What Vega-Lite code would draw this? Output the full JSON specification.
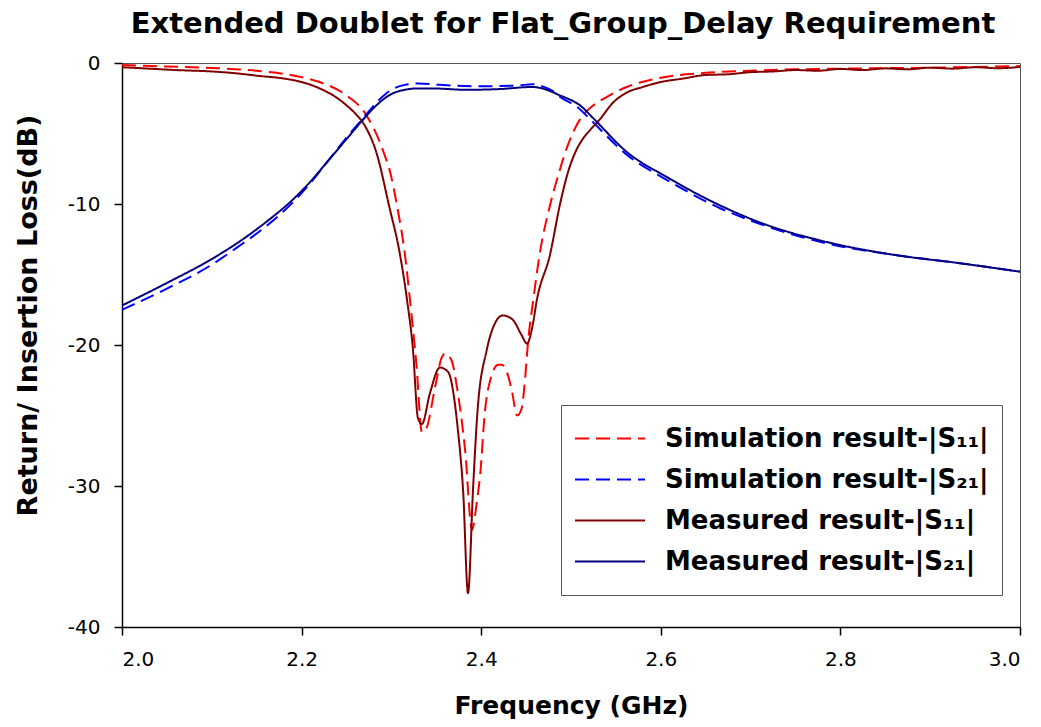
{
  "$schema": "https://vega.github.io/schema/vega-lite/v6.json",
  "width": 898,
  "height": 564,
  "autosize": {"type": "none"},
  "padding": {"left": 122, "top": 63, "right": 21, "bottom": 100},
  "background": "white",
  "title": {
    "text": "Extended Doublet for Flat_Group_Delay Requirement",
    "font": "DejaVu Sans",
    "fontSize": 29,
    "fontWeight": "bold",
    "color": "black",
    "anchor": "middle",
    "frame": "group",
    "offset": 14,
    "dx": -8
  },
  "config": {
    "view": {"stroke": "#555555", "strokeWidth": 1},
    "axis": {
      "grid": false,
      "domainColor": "black",
      "domainWidth": 1.5,
      "tickColor": "black",
      "tickWidth": 1.5,
      "tickSize": 8,
      "labelFont": "DejaVu Sans",
      "labelFontSize": 20,
      "labelColor": "black",
      "titleFont": "DejaVu Sans",
      "titleFontWeight": "bold",
      "titleColor": "black"
    }
  },
  "data": {
    "values": [
      {"s": "Simulation result-|S₁₁|", "f": 2.000, "db": -0.15},
      {"s": "Simulation result-|S₁₁|", "f": 2.050, "db": -0.25},
      {"s": "Simulation result-|S₁₁|", "f": 2.100, "db": -0.35},
      {"s": "Simulation result-|S₁₁|", "f": 2.150, "db": -0.55},
      {"s": "Simulation result-|S₁₁|", "f": 2.200, "db": -1.0},
      {"s": "Simulation result-|S₁₁|", "f": 2.220, "db": -1.35},
      {"s": "Simulation result-|S₁₁|", "f": 2.250, "db": -2.3},
      {"s": "Simulation result-|S₁₁|", "f": 2.270, "db": -3.5},
      {"s": "Simulation result-|S₁₁|", "f": 2.2906, "db": -6.2},
      {"s": "Simulation result-|S₁₁|", "f": 2.2996, "db": -8.0},
      {"s": "Simulation result-|S₁₁|", "f": 2.3062, "db": -10.1},
      {"s": "Simulation result-|S₁₁|", "f": 2.3151, "db": -13.6},
      {"s": "Simulation result-|S₁₁|", "f": 2.3207, "db": -16.8},
      {"s": "Simulation result-|S₁₁|", "f": 2.328, "db": -21.5},
      {"s": "Simulation result-|S₁₁|", "f": 2.334, "db": -26.2},
      {"s": "Simulation result-|S₁₁|", "f": 2.339, "db": -25.9},
      {"s": "Simulation result-|S₁₁|", "f": 2.3486, "db": -23.0},
      {"s": "Simulation result-|S₁₁|", "f": 2.356, "db": -20.9},
      {"s": "Simulation result-|S₁₁|", "f": 2.360, "db": -20.6},
      {"s": "Simulation result-|S₁₁|", "f": 2.367, "db": -21.1},
      {"s": "Simulation result-|S₁₁|", "f": 2.374, "db": -23.4},
      {"s": "Simulation result-|S₁₁|", "f": 2.382, "db": -27.4},
      {"s": "Simulation result-|S₁₁|", "f": 2.3898, "db": -33.1},
      {"s": "Simulation result-|S₁₁|", "f": 2.395, "db": -31.2},
      {"s": "Simulation result-|S₁₁|", "f": 2.399, "db": -29.1},
      {"s": "Simulation result-|S₁₁|", "f": 2.404, "db": -24.8},
      {"s": "Simulation result-|S₁₁|", "f": 2.410, "db": -22.5},
      {"s": "Simulation result-|S₁₁|", "f": 2.419, "db": -21.4},
      {"s": "Simulation result-|S₁₁|", "f": 2.423, "db": -21.4},
      {"s": "Simulation result-|S₁₁|", "f": 2.429, "db": -22.0},
      {"s": "Simulation result-|S₁₁|", "f": 2.434, "db": -23.2},
      {"s": "Simulation result-|S₁₁|", "f": 2.440, "db": -25.0},
      {"s": "Simulation result-|S₁₁|", "f": 2.445, "db": -24.5},
      {"s": "Simulation result-|S₁₁|", "f": 2.449, "db": -22.3},
      {"s": "Simulation result-|S₁₁|", "f": 2.452, "db": -19.9},
      {"s": "Simulation result-|S₁₁|", "f": 2.458, "db": -16.8},
      {"s": "Simulation result-|S₁₁|", "f": 2.465, "db": -13.6},
      {"s": "Simulation result-|S₁₁|", "f": 2.4766, "db": -10.1},
      {"s": "Simulation result-|S₁₁|", "f": 2.487, "db": -7.7},
      {"s": "Simulation result-|S₁₁|", "f": 2.4955, "db": -6.0},
      {"s": "Simulation result-|S₁₁|", "f": 2.510, "db": -4.0},
      {"s": "Simulation result-|S₁₁|", "f": 2.525, "db": -3.0},
      {"s": "Simulation result-|S₁₁|", "f": 2.540, "db": -2.4},
      {"s": "Simulation result-|S₁₁|", "f": 2.562, "db": -1.7},
      {"s": "Simulation result-|S₁₁|", "f": 2.600, "db": -1.05},
      {"s": "Simulation result-|S₁₁|", "f": 2.650, "db": -0.7},
      {"s": "Simulation result-|S₁₁|", "f": 2.700, "db": -0.55},
      {"s": "Simulation result-|S₁₁|", "f": 2.750, "db": -0.45},
      {"s": "Simulation result-|S₁₁|", "f": 2.800, "db": -0.4},
      {"s": "Simulation result-|S₁₁|", "f": 2.900, "db": -0.33},
      {"s": "Simulation result-|S₁₁|", "f": 3.000, "db": -0.22},

      {"s": "Simulation result-|S₂₁|", "f": 2.000, "db": -17.5},
      {"s": "Simulation result-|S₂₁|", "f": 2.050, "db": -16.0},
      {"s": "Simulation result-|S₂₁|", "f": 2.100, "db": -14.3},
      {"s": "Simulation result-|S₂₁|", "f": 2.130, "db": -13.0},
      {"s": "Simulation result-|S₂₁|", "f": 2.160, "db": -11.6},
      {"s": "Simulation result-|S₂₁|", "f": 2.190, "db": -9.9},
      {"s": "Simulation result-|S₂₁|", "f": 2.210, "db": -8.5},
      {"s": "Simulation result-|S₂₁|", "f": 2.230, "db": -6.9},
      {"s": "Simulation result-|S₂₁|", "f": 2.250, "db": -5.3},
      {"s": "Simulation result-|S₂₁|", "f": 2.270, "db": -3.8},
      {"s": "Simulation result-|S₂₁|", "f": 2.285, "db": -2.7},
      {"s": "Simulation result-|S₂₁|", "f": 2.300, "db": -1.9},
      {"s": "Simulation result-|S₂₁|", "f": 2.315, "db": -1.55},
      {"s": "Simulation result-|S₂₁|", "f": 2.330, "db": -1.45},
      {"s": "Simulation result-|S₂₁|", "f": 2.354, "db": -1.55},
      {"s": "Simulation result-|S₂₁|", "f": 2.402, "db": -1.65},
      {"s": "Simulation result-|S₂₁|", "f": 2.440, "db": -1.6},
      {"s": "Simulation result-|S₂₁|", "f": 2.457, "db": -1.5},
      {"s": "Simulation result-|S₂₁|", "f": 2.470, "db": -1.7},
      {"s": "Simulation result-|S₂₁|", "f": 2.480, "db": -2.0},
      {"s": "Simulation result-|S₂₁|", "f": 2.4878, "db": -2.4},
      {"s": "Simulation result-|S₂₁|", "f": 2.5067, "db": -3.1},
      {"s": "Simulation result-|S₂₁|", "f": 2.5245, "db": -4.2},
      {"s": "Simulation result-|S₂₁|", "f": 2.562, "db": -6.5},
      {"s": "Simulation result-|S₂₁|", "f": 2.607, "db": -8.3},
      {"s": "Simulation result-|S₂₁|", "f": 2.666, "db": -10.3},
      {"s": "Simulation result-|S₂₁|", "f": 2.710, "db": -11.4},
      {"s": "Simulation result-|S₂₁|", "f": 2.785, "db": -12.8},
      {"s": "Simulation result-|S₂₁|", "f": 2.859, "db": -13.6},
      {"s": "Simulation result-|S₂₁|", "f": 2.933, "db": -14.2},
      {"s": "Simulation result-|S₂₁|", "f": 3.000, "db": -14.8},

      {"s": "Measured result-|S₁₁|", "f": 2.000, "db": -0.3},
      {"s": "Measured result-|S₁₁|", "f": 2.030, "db": -0.4},
      {"s": "Measured result-|S₁₁|", "f": 2.060, "db": -0.5},
      {"s": "Measured result-|S₁₁|", "f": 2.100, "db": -0.6},
      {"s": "Measured result-|S₁₁|", "f": 2.130, "db": -0.75},
      {"s": "Measured result-|S₁₁|", "f": 2.150, "db": -0.9},
      {"s": "Measured result-|S₁₁|", "f": 2.180, "db": -1.1},
      {"s": "Measured result-|S₁₁|", "f": 2.200, "db": -1.35},
      {"s": "Measured result-|S₁₁|", "f": 2.220, "db": -1.8},
      {"s": "Measured result-|S₁₁|", "f": 2.240, "db": -2.5},
      {"s": "Measured result-|S₁₁|", "f": 2.250, "db": -3.0},
      {"s": "Measured result-|S₁₁|", "f": 2.260, "db": -3.6},
      {"s": "Measured result-|S₁₁|", "f": 2.270, "db": -4.4},
      {"s": "Measured result-|S₁₁|", "f": 2.284, "db": -6.5},
      {"s": "Measured result-|S₁₁|", "f": 2.2973, "db": -10.1},
      {"s": "Measured result-|S₁₁|", "f": 2.3096, "db": -13.6},
      {"s": "Measured result-|S₁₁|", "f": 2.3174, "db": -16.8},
      {"s": "Measured result-|S₁₁|", "f": 2.324, "db": -20.3},
      {"s": "Measured result-|S₁₁|", "f": 2.3296, "db": -25.2},
      {"s": "Measured result-|S₁₁|", "f": 2.334, "db": -25.6},
      {"s": "Measured result-|S₁₁|", "f": 2.343, "db": -23.4},
      {"s": "Measured result-|S₁₁|", "f": 2.354, "db": -21.6},
      {"s": "Measured result-|S₁₁|", "f": 2.363, "db": -21.9},
      {"s": "Measured result-|S₁₁|", "f": 2.374, "db": -26.0},
      {"s": "Measured result-|S₁₁|", "f": 2.380, "db": -30.5},
      {"s": "Measured result-|S₁₁|", "f": 2.3853, "db": -37.6},
      {"s": "Measured result-|S₁₁|", "f": 2.391, "db": -30.1},
      {"s": "Measured result-|S₁₁|", "f": 2.396, "db": -24.6},
      {"s": "Measured result-|S₁₁|", "f": 2.406, "db": -20.4},
      {"s": "Measured result-|S₁₁|", "f": 2.413, "db": -18.8},
      {"s": "Measured result-|S₁₁|", "f": 2.424, "db": -17.9},
      {"s": "Measured result-|S₁₁|", "f": 2.435, "db": -18.2},
      {"s": "Measured result-|S₁₁|", "f": 2.445, "db": -19.3},
      {"s": "Measured result-|S₁₁|", "f": 2.451, "db": -19.9},
      {"s": "Measured result-|S₁₁|", "f": 2.457, "db": -18.7},
      {"s": "Measured result-|S₁₁|", "f": 2.462, "db": -16.8},
      {"s": "Measured result-|S₁₁|", "f": 2.4766, "db": -13.6},
      {"s": "Measured result-|S₁₁|", "f": 2.4878, "db": -10.0},
      {"s": "Measured result-|S₁₁|", "f": 2.4955, "db": -8.0},
      {"s": "Measured result-|S₁₁|", "f": 2.505, "db": -6.3},
      {"s": "Measured result-|S₁₁|", "f": 2.513, "db": -5.4},
      {"s": "Measured result-|S₁₁|", "f": 2.522, "db": -4.7},
      {"s": "Measured result-|S₁₁|", "f": 2.532, "db": -4.0},
      {"s": "Measured result-|S₁₁|", "f": 2.547, "db": -2.8},
      {"s": "Measured result-|S₁₁|", "f": 2.562, "db": -2.1},
      {"s": "Measured result-|S₁₁|", "f": 2.580, "db": -1.7},
      {"s": "Measured result-|S₁₁|", "f": 2.600, "db": -1.35},
      {"s": "Measured result-|S₁₁|", "f": 2.625, "db": -1.1},
      {"s": "Measured result-|S₁₁|", "f": 2.650, "db": -0.85},
      {"s": "Measured result-|S₁₁|", "f": 2.675, "db": -0.8},
      {"s": "Measured result-|S₁₁|", "f": 2.700, "db": -0.65},
      {"s": "Measured result-|S₁₁|", "f": 2.725, "db": -0.6},
      {"s": "Measured result-|S₁₁|", "f": 2.750, "db": -0.5},
      {"s": "Measured result-|S₁₁|", "f": 2.775, "db": -0.55},
      {"s": "Measured result-|S₁₁|", "f": 2.800, "db": -0.42},
      {"s": "Measured result-|S₁₁|", "f": 2.825, "db": -0.5},
      {"s": "Measured result-|S₁₁|", "f": 2.850, "db": -0.38},
      {"s": "Measured result-|S₁₁|", "f": 2.875, "db": -0.45},
      {"s": "Measured result-|S₁₁|", "f": 2.900, "db": -0.33},
      {"s": "Measured result-|S₁₁|", "f": 2.925, "db": -0.4},
      {"s": "Measured result-|S₁₁|", "f": 2.950, "db": -0.3},
      {"s": "Measured result-|S₁₁|", "f": 2.975, "db": -0.37},
      {"s": "Measured result-|S₁₁|", "f": 3.000, "db": -0.28},

      {"s": "Measured result-|S₂₁|", "f": 2.000, "db": -17.2},
      {"s": "Measured result-|S₂₁|", "f": 2.050, "db": -15.6},
      {"s": "Measured result-|S₂₁|", "f": 2.100, "db": -13.9},
      {"s": "Measured result-|S₂₁|", "f": 2.130, "db": -12.7},
      {"s": "Measured result-|S₂₁|", "f": 2.160, "db": -11.3},
      {"s": "Measured result-|S₂₁|", "f": 2.190, "db": -9.7},
      {"s": "Measured result-|S₂₁|", "f": 2.210, "db": -8.4},
      {"s": "Measured result-|S₂₁|", "f": 2.230, "db": -6.9},
      {"s": "Measured result-|S₂₁|", "f": 2.250, "db": -5.4},
      {"s": "Measured result-|S₂₁|", "f": 2.270, "db": -3.9},
      {"s": "Measured result-|S₂₁|", "f": 2.285, "db": -2.9},
      {"s": "Measured result-|S₂₁|", "f": 2.300, "db": -2.2},
      {"s": "Measured result-|S₂₁|", "f": 2.315, "db": -1.9},
      {"s": "Measured result-|S₂₁|", "f": 2.330, "db": -1.8},
      {"s": "Measured result-|S₂₁|", "f": 2.345, "db": -1.8},
      {"s": "Measured result-|S₂₁|", "f": 2.383, "db": -1.9},
      {"s": "Measured result-|S₂₁|", "f": 2.420, "db": -1.85},
      {"s": "Measured result-|S₂₁|", "f": 2.457, "db": -1.7},
      {"s": "Measured result-|S₂₁|", "f": 2.473, "db": -1.9},
      {"s": "Measured result-|S₂₁|", "f": 2.4878, "db": -2.3},
      {"s": "Measured result-|S₂₁|", "f": 2.4955, "db": -2.5},
      {"s": "Measured result-|S₂₁|", "f": 2.510, "db": -3.0},
      {"s": "Measured result-|S₂₁|", "f": 2.5245, "db": -3.9},
      {"s": "Measured result-|S₂₁|", "f": 2.562, "db": -6.3},
      {"s": "Measured result-|S₂₁|", "f": 2.607, "db": -8.1},
      {"s": "Measured result-|S₂₁|", "f": 2.666, "db": -10.1},
      {"s": "Measured result-|S₂₁|", "f": 2.710, "db": -11.3},
      {"s": "Measured result-|S₂₁|", "f": 2.785, "db": -12.7},
      {"s": "Measured result-|S₂₁|", "f": 2.859, "db": -13.6},
      {"s": "Measured result-|S₂₁|", "f": 2.933, "db": -14.2},
      {"s": "Measured result-|S₂₁|", "f": 3.000, "db": -14.8}
    ]
  },
  "mark": {"type": "line", "interpolate": "monotone", "strokeWidth": 2, "clip": true},
  "encoding": {
    "x": {
      "field": "f",
      "type": "quantitative",
      "title": "Frequency (GHz)",
      "scale": {"domain": [2.0, 3.0], "nice": false},
      "axis": {"values": [2.0, 2.2, 2.4, 2.6, 2.8, 3.0], "format": ".1f", "labelPadding": 14, "titlePadding": 24, "titleFontSize": 25}
    },
    "y": {
      "field": "db",
      "type": "quantitative",
      "title": "Return/ Insertion Loss(dB)",
      "scale": {"domain": [-40, 0], "nice": false},
      "axis": {"values": [-40, -30, -20, -10, 0], "labelPadding": 14, "titlePadding": 25, "titleFontSize": 27, "titleY": 252, "labelExpr": "replace(datum.label, '−', '-')"}
    },
    "color": {
      "field": "s",
      "type": "nominal",
      "scale": {
        "domain": ["Simulation result-|S₁₁|", "Simulation result-|S₂₁|", "Measured result-|S₁₁|", "Measured result-|S₂₁|"],
        "range": ["#ff0000", "#0000ff", "#800000", "#000080"]
      },
      "legend": {
        "title": null,
        "orient": "none",
        "legendX": 439,
        "legendY": 342,
        "direction": "vertical",
        "fillColor": "white",
        "strokeColor": "#555555",
        "padding": 13,
        "symbolType": "stroke",
        "symbolSize": 4900,
        "symbolStrokeWidth": 2,
        "labelFont": "DejaVu Sans",
        "labelFontSize": 26,
        "labelFontWeight": "bold",
        "labelColor": "black",
        "labelOffset": 19,
        "labelLimit": 400,
        "clipHeight": 41,
        "rowPadding": 0
      }
    },
    "strokeDash": {
      "field": "s",
      "type": "nominal",
      "scale": {
        "domain": ["Simulation result-|S₁₁|", "Simulation result-|S₂₁|", "Measured result-|S₁₁|", "Measured result-|S₂₁|"],
        "range": [[14, 7], [14, 7], [1, 0], [1, 0]]
      },
      "legend": {
        "title": null,
        "orient": "none",
        "legendX": 439,
        "legendY": 342,
        "direction": "vertical",
        "fillColor": "white",
        "strokeColor": "#555555",
        "padding": 13,
        "symbolType": "stroke",
        "symbolSize": 4900,
        "symbolStrokeWidth": 2,
        "labelFont": "DejaVu Sans",
        "labelFontSize": 26,
        "labelFontWeight": "bold",
        "labelColor": "black",
        "labelOffset": 19,
        "labelLimit": 400,
        "clipHeight": 41,
        "rowPadding": 0
      }
    }
  }
}
